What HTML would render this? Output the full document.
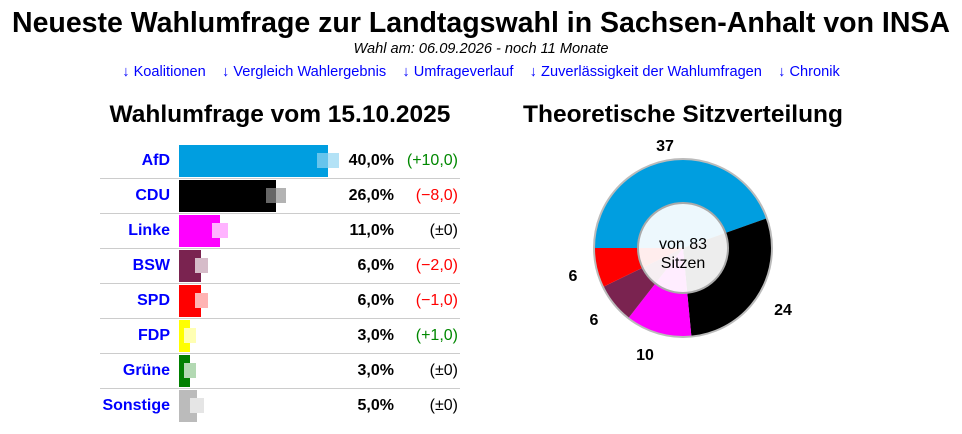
<!DOCTYPE html>
<html><head><meta charset="utf-8"><style>
body{margin:0;width:962px;height:434px;background:#fff;font-family:"Liberation Sans",Arial,sans-serif;position:relative;overflow:hidden}
.a{position:absolute;white-space:nowrap}
.t{left:0;width:962px;text-align:center}
.n{color:#00f;font-weight:bold;font-size:16px;right:792px;text-align:right}
.p{font-weight:bold;font-size:16px;right:568px;text-align:right}
.c{font-size:16px;right:504px;text-align:right}
.g{color:#080}.r{color:#f00}
.line{position:absolute;left:100px;width:360px;height:1px;background:#ccc}
.bar{position:absolute;left:179px;height:32px}
.gh{position:absolute;height:15px}
</style></head><body>
<div class="a t" style="top:7px;font-size:28.5px;font-weight:bold">Neueste Wahlumfrage zur Landtagswahl in Sachsen-Anhalt von INSA</div>
<div class="a t" style="top:41px;font-size:14.6px;font-style:italic">Wahl am: 06.09.2026 - noch 11 Monate</div>
<div class="a t" style="top:64px;font-size:14.6px;color:#00f">↓ Koalitionen &nbsp;&nbsp; ↓ Vergleich Wahlergebnis &nbsp;&nbsp; ↓ Umfrageverlauf &nbsp;&nbsp; ↓ Zuverlässigkeit der Wahlumfragen &nbsp;&nbsp; ↓ Chronik</div>
<div class="a" style="left:100px;width:360px;text-align:center;top:101px;font-size:24.5px;font-weight:bold">Wahlumfrage vom 15.10.2025</div>
<div class="a" style="left:503px;width:360px;text-align:center;top:101px;font-size:24.5px;font-weight:bold">Theoretische Sitzverteilung</div>

<div class="line" style="top:178px"></div><div class="line" style="top:213px"></div><div class="line" style="top:248px"></div><div class="line" style="top:283px"></div><div class="line" style="top:318px"></div><div class="line" style="top:353px"></div><div class="line" style="top:388px"></div>

<div class="bar" style="top:145px;width:149px;background:#009ee0"></div><div class="gh" style="top:153px;left:317px;width:11px;background:#66c4ec"></div><div class="gh" style="top:153px;left:328px;width:11px;background:#b3e2f6"></div>
<div class="bar" style="top:180px;width:97px;background:#000"></div><div class="gh" style="top:188px;left:266px;width:10px;background:#666"></div><div class="gh" style="top:188px;left:276px;width:10px;background:#b3b3b3"></div>
<div class="bar" style="top:215px;width:41px;background:#f0f"></div><div class="gh" style="top:223px;left:212px;width:16px;background:#ffb3ff"></div>
<div class="bar" style="top:250px;width:22px;background:#7a2350"></div><div class="gh" style="top:258px;left:195px;width:13px;background:#d6bcc9"></div>
<div class="bar" style="top:285px;width:22px;background:#f00"></div><div class="gh" style="top:293px;left:195px;width:13px;background:#ffb3b3"></div>
<div class="bar" style="top:320px;width:11px;background:#ff0"></div><div class="gh" style="top:328px;left:184px;width:12px;background:#ffffb3"></div>
<div class="bar" style="top:355px;width:11px;background:#008000"></div><div class="gh" style="top:363px;left:184px;width:12px;background:#b3d9b3"></div>
<div class="bar" style="top:390px;width:18px;background:#bbb"></div><div class="gh" style="top:398px;left:190px;width:14px;background:#e5e5e5"></div>

<div class="a n" style="top:152px">AfD</div><div class="a p" style="top:152px">40,0%</div><div class="a c g" style="top:152px">(+10,0)</div>
<div class="a n" style="top:187px">CDU</div><div class="a p" style="top:187px">26,0%</div><div class="a c r" style="top:187px">(−8,0)</div>
<div class="a n" style="top:222px">Linke</div><div class="a p" style="top:222px">11,0%</div><div class="a c" style="top:222px">(±0)</div>
<div class="a n" style="top:257px">BSW</div><div class="a p" style="top:257px">6,0%</div><div class="a c r" style="top:257px">(−2,0)</div>
<div class="a n" style="top:292px">SPD</div><div class="a p" style="top:292px">6,0%</div><div class="a c r" style="top:292px">(−1,0)</div>
<div class="a n" style="top:327px">FDP</div><div class="a p" style="top:327px">3,0%</div><div class="a c g" style="top:327px">(+1,0)</div>
<div class="a n" style="top:362px">Grüne</div><div class="a p" style="top:362px">3,0%</div><div class="a c" style="top:362px">(±0)</div>
<div class="a n" style="top:397px">Sonstige</div><div class="a p" style="top:397px">5,0%</div><div class="a c" style="top:397px">(±0)</div>

<svg class="a" style="left:0;top:0" width="962" height="434">
<path d="M683,248 L594,248 A89,89 0 0 1 766.9,218.3 Z" fill="#009ee0"/>
<path d="M683,248 L766.9,218.3 A89,89 0 0 1 691.4,336.6 Z" fill="#000"/>
<path d="M683,248 L691.4,336.6 A89,89 0 0 1 628.3,318.2 Z" fill="#f0f"/>
<path d="M683,248 L628.3,318.2 A89,89 0 0 1 603,287 Z" fill="#7a2350"/>
<path d="M683,248 L603,287 A89,89 0 0 1 594,248 Z" fill="#f00"/>
<circle cx="683" cy="248" r="89" fill="none" stroke="#bbb" stroke-width="2"/>
<circle cx="683" cy="248" r="45" fill="#fff" fill-opacity="0.93" stroke="#aaa" stroke-width="2"/>
<text x="683" y="249" text-anchor="middle" font-size="16" font-family="Liberation Sans,sans-serif">von 83</text>
<text x="683" y="268" text-anchor="middle" font-size="16" font-family="Liberation Sans,sans-serif">Sitzen</text>
<g font-size="16" font-weight="bold" font-family="Liberation Sans,sans-serif" text-anchor="middle">
<text x="665" y="151">37</text><text x="783" y="315">24</text><text x="645" y="360">10</text><text x="594" y="325">6</text><text x="573" y="281">6</text>
</g>
</svg>
</body></html>
